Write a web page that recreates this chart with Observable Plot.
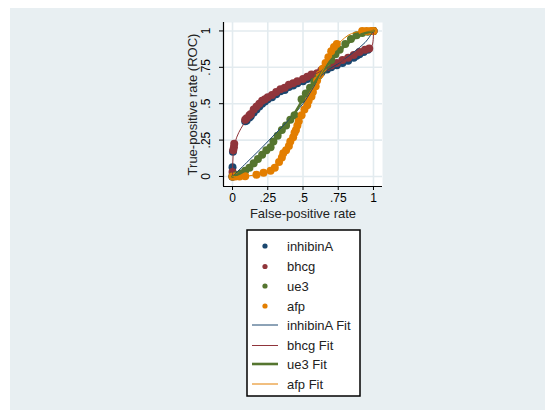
<!DOCTYPE html>
<html><head><meta charset="utf-8">
<script src="https://cdn.jsdelivr.net/npm/d3@7"></script>
<script src="https://cdn.jsdelivr.net/npm/@observablehq/plot@0.6"></script>
<style>
html,body{margin:0;padding:0;background:#fff;}
#wrap{position:relative;width:545px;height:410px;background:#fff;overflow:hidden}
#bg{position:absolute;left:10px;top:8px;right:0;bottom:0;background:#e8eff2}
#chart{position:absolute;left:0;top:0}
</style></head><body>
<div id="wrap"><div id="bg"></div><div id="chart"></div></div>
<script>
// ---- data: [false-positive rate, true-positive rate] ----
const inhibinA = [[0,0],[0,0.064],[0.003,0.17],[0.09,0.38],[0.1,0.385],[0.12,0.405],[0.13,0.415],[0.15,0.44],[0.17,0.46],[0.19,0.48],[0.21,0.5],[0.23,0.515],[0.25,0.53],[0.28,0.545],[0.31,0.565],[0.34,0.585],[0.37,0.595],[0.4,0.615],[0.43,0.625],[0.46,0.64],[0.5,0.655],[0.53,0.67],[0.56,0.685],[0.6,0.695],[0.63,0.715],[0.67,0.735],[0.7,0.75],[0.74,0.765],[0.78,0.78],[0.82,0.795],[0.86,0.815],[0.88,0.83],[0.9,0.84],[0.93,0.855],[0.96,0.87],[1,1]];
const bhcg = [[0,0],[0,0.03],[0.005,0.18],[0.01,0.2],[0.012,0.225],[0.09,0.39],[0.1,0.4],[0.12,0.42],[0.13,0.43],[0.15,0.46],[0.17,0.48],[0.19,0.5],[0.21,0.52],[0.23,0.53],[0.25,0.545],[0.28,0.56],[0.31,0.58],[0.34,0.6],[0.37,0.61],[0.4,0.63],[0.43,0.64],[0.46,0.655],[0.5,0.67],[0.53,0.685],[0.56,0.7],[0.6,0.71],[0.63,0.73],[0.67,0.75],[0.7,0.765],[0.74,0.78],[0.78,0.8],[0.82,0.815],[0.86,0.835],[0.9,0.855],[0.94,0.87],[0.97,0.88],[1,1]];
const ue3 = [[0,0],[0.03,0.01],[0.06,0.02],[0.09,0.04],[0.12,0.06],[0.15,0.09],[0.18,0.12],[0.21,0.15],[0.24,0.18],[0.27,0.2],[0.29,0.24],[0.32,0.28],[0.35,0.32],[0.38,0.35],[0.41,0.39],[0.44,0.42],[0.49,0.53],[0.52,0.57],[0.55,0.61],[0.58,0.65],[0.61,0.69],[0.64,0.73],[0.67,0.76],[0.7,0.8],[0.73,0.84],[0.76,0.87],[0.8,0.91],[0.84,0.945],[0.88,0.97],[0.92,0.985],[0.96,0.995],[1,1]];
const afp = [[0,0],[0.02,0],[0.05,0],[0.09,0.002],[0.17,0.012],[0.22,0.025],[0.27,0.04],[0.3,0.06],[0.33,0.1],[0.35,0.13],[0.36,0.16],[0.38,0.18],[0.4,0.21],[0.41,0.24],[0.43,0.27],[0.44,0.3],[0.45,0.32],[0.46,0.35],[0.47,0.38],[0.49,0.42],[0.51,0.46],[0.53,0.49],[0.54,0.52],[0.56,0.55],[0.57,0.58],[0.59,0.62],[0.6,0.66],[0.62,0.7],[0.64,0.74],[0.66,0.78],[0.68,0.82],[0.7,0.86],[0.72,0.89],[0.74,0.91],[0.92,1],[0.95,1],[0.98,1],[1,1]];

const inhibinAFit = [[0,0],[0.1,0.095],[0.2,0.19],[0.3,0.29],[0.4,0.39],[0.5,0.5],[0.56,0.59],[0.62,0.68],[0.68,0.735],[0.75,0.775],[0.86,0.855],[0.94,0.92],[1,1]];
const bhcgFit = [[0,0],[0.002,0.1],[0.01,0.2],[0.03,0.27],[0.06,0.33],[0.1,0.39],[0.15,0.45],[0.2,0.5],[0.25,0.535],[0.3,0.565],[0.4,0.62],[0.5,0.665],[0.6,0.71],[0.7,0.76],[0.8,0.805],[0.9,0.85],[0.96,0.875],[0.99,0.9],[1,1]];
const ue3Fit = [[0,0],[0.05,0.02],[0.1,0.05],[0.2,0.13],[0.3,0.25],[0.4,0.37],[0.5,0.53],[0.6,0.67],[0.7,0.8],[0.8,0.9],[0.9,0.97],[1,1]];
const afpFit = [[0,0],[0.1,0.002],[0.2,0.02],[0.27,0.045],[0.33,0.1],[0.38,0.17],[0.43,0.27],[0.48,0.4],[0.53,0.5],[0.58,0.6],[0.63,0.71],[0.68,0.8],[0.72,0.88],[0.77,0.93],[0.82,0.97],[0.87,0.99],[0.93,1],[1,1]];

const seriesNames = ["inhibinA","bhcg","ue3","afp"];
const seriesColors = ["#1a476f","#90353b","#55752f","#e37e00"];
const fitWidths = [1,1,2.6,1];
const tickValues = [0,0.25,0.5,0.75,1];
const tickLabels = ["0",".25",".5",".75","1"];
const xTitle = "False-positive rate";
const yTitle = "True-positive rate (ROC)";

const points = [inhibinA,bhcg,ue3,afp];
const fits = [inhibinAFit,bhcgFit,ue3Fit,afpFit];

const xDomain = [-0.064,1.064];
const yDomain = [-0.069,1.058];
const gridColor = "#e3ebef";
const font = "'Liberation Sans', Arial, sans-serif";

const marks = [
  Plot.frame({fill:"#fff", stroke:"none"}),
  Plot.gridX(tickValues,{stroke:gridColor, strokeOpacity:1, strokeWidth:1.6}),
  Plot.gridY(tickValues,{stroke:gridColor, strokeOpacity:1, strokeWidth:1.6}),
  Plot.ruleX([xDomain[0]],{stroke:"#000", strokeWidth:1.2}),
  Plot.ruleY([yDomain[0]],{stroke:"#000", strokeWidth:1.2}),
  Plot.axisX(tickValues,{tickFormat:(d,i)=>tickLabels[i], tickSize:4, tickPadding:3, fontSize:12, label:null, stroke:"#000"}),
  Plot.axisY(tickValues,{tickFormat:(d,i)=>tickLabels[i], tickSize:4, tickPadding:10, tickRotate:-90, fontSize:12, label:null, stroke:"#000"}),
  Plot.text([xTitle],{text:d=>d, frameAnchor:"bottom", dy:31, fontSize:13, fill:"#222", textAnchor:"middle"}),
  Plot.text([yTitle],{text:d=>d, frameAnchor:"left", dx:-31, rotate:-90, fontSize:13, fill:"#222", textAnchor:"middle"})
];
points.forEach((p,i)=>{
  marks.push(Plot.dot(p,{x:d=>d[0], y:d=>d[1], r:4, fill:seriesColors[i], stroke:"none"}));
});
fits.forEach((f,i)=>{
  marks.push(Plot.line(f,{x:d=>d[0], y:d=>d[1], stroke:seriesColors[i], strokeWidth:fitWidths[i], curve:"catmull-rom"}));
});

const plot = Plot.plot({
  width:545, height:410,
  marginLeft:223, marginRight:163, marginTop:22, marginBottom:224,
  style:{background:"transparent", fontFamily:font, color:"#000"},
  x:{domain:xDomain},
  y:{domain:yDomain},
  marks
});
document.getElementById("chart").appendChild(plot);

// ---- legend box ----
const svg = d3.select(plot);
const lg = svg.append("g").attr("font-family",font).attr("font-size",13).attr("fill","#222").attr("text-anchor","start");
lg.append("rect").attr("x",247).attr("y",230).attr("width",113).attr("height",166)
  .attr("fill","#fff").attr("stroke","#000").attr("stroke-width",1.5);
const rowY = [246,266.5,286,306,325,345.5,364,384];
seriesNames.forEach((n,i)=>{
  lg.append("circle").attr("cx",265).attr("cy",rowY[i]).attr("r",2.6).attr("fill",seriesColors[i]);
  lg.append("text").attr("x",287).attr("y",rowY[i]).attr("dy","0.35em").attr("text-anchor","start").text(n);
});
seriesNames.forEach((n,i)=>{
  const y = rowY[i+4];
  lg.append("line").attr("x1",252).attr("x2",278).attr("y1",y).attr("y2",y)
    .attr("stroke",seriesColors[i]).attr("stroke-width",fitWidths[i]);
  lg.append("text").attr("x",287).attr("y",y).attr("dy","0.35em").attr("text-anchor","start").text(n+" Fit");
});
</script>
</body></html>
